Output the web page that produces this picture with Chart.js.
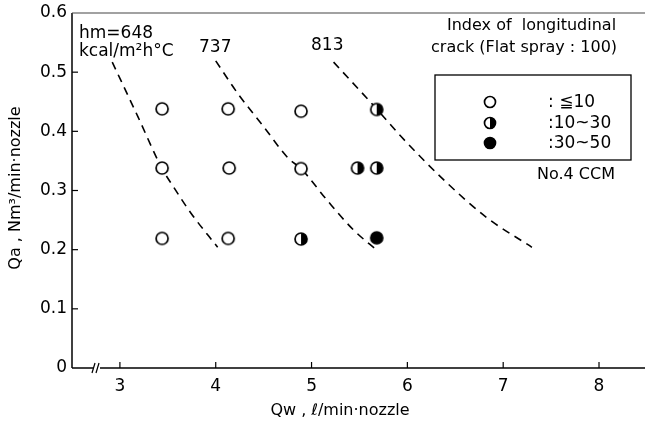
<!DOCTYPE html>
<html>
<head>
<meta charset="utf-8">
<script src="https://cdn.jsdelivr.net/npm/chart.js@4.4.1/dist/chart.umd.min.js"></script>
<style>
html,body{margin:0;padding:0;background:#fff;overflow:hidden;}
canvas{display:block;}
</style>
</head>
<body>
<canvas id="c" width="645" height="423" style="width:645px;height:423px;"></canvas>
<script>
// ---- data ----
const xTickValues = [3, 4, 5, 6, 7, 8];
const yTickValues = [0, 0.1, 0.2, 0.3, 0.4, 0.5, 0.6];
const openPts = [
  {x:3.44,y:0.438},{x:4.13,y:0.438},{x:4.89,y:0.434},
  {x:3.44,y:0.338},{x:4.14,y:0.338},{x:4.89,y:0.337},
  {x:3.44,y:0.219},{x:4.13,y:0.219}
];
const halfPts = [
  {x:5.68,y:0.437},{x:5.48,y:0.338},{x:5.68,y:0.338},{x:4.89,y:0.218}
];
const fullPts = [
  {x:5.68,y:0.220}
];
const curve648 = [
  {x:2.92,y:0.517},{x:3.19,y:0.424},{x:3.44,y:0.337},{x:3.56,y:0.306},{x:3.74,y:0.262},{x:4.02,y:0.204}
];
const curve737 = [
  {x:4.0,y:0.519},{x:4.23,y:0.464},{x:4.50,y:0.408},{x:4.76,y:0.354},{x:4.89,y:0.337},{x:5.16,y:0.284},{x:5.44,y:0.233},{x:5.69,y:0.198}
];
const curve813 = [
  {x:5.23,y:0.517},{x:5.69,y:0.436},{x:5.93,y:0.392},{x:6.38,y:0.318},{x:6.83,y:0.254},{x:7.30,y:0.204}
];
const legendLabels = [': \u226610', ':10~30', ':30~50'];

// ---- drawing helpers ----
const FONT = "'DejaVu Sans', sans-serif";
const PLOT_RIGHT = 645;
function drawMarker(ctx, x, y, r, kind){
  ctx.save();
  ctx.lineWidth = 1.7;
  ctx.strokeStyle = '#000';
  ctx.beginPath(); ctx.arc(x, y, r, 0, Math.PI*2);
  ctx.fillStyle = kind === 'full' ? '#000' : '#fff';
  ctx.fill();
  if (kind === 'half'){
    ctx.beginPath(); ctx.moveTo(x, y - r); ctx.arc(x, y, r, -Math.PI/2, Math.PI/2); ctx.closePath();
    ctx.fillStyle = '#000'; ctx.fill();
  }
  ctx.beginPath(); ctx.arc(x, y, r, 0, Math.PI*2); ctx.stroke();
  ctx.restore();
}
function markerImage(kind, r){
  const s = Math.ceil(r*2 + 4);
  const cv = document.createElement('canvas');
  cv.width = s; cv.height = s;
  drawMarker(cv.getContext('2d'), s/2, s/2, r, kind);
  return cv;
}

const stretchPlugin = {
  id: 'stretch',
  afterLayout(chart){
    const a = chart.chartArea, x = chart.scales.x;
    if (a && x && a.right < PLOT_RIGHT) {
      a.right = PLOT_RIGHT; a.width = a.right - a.left;
      x.right = PLOT_RIGHT; x.width = x.right - x.left;
      x.configure();
    }
  }
};

const decorPlugin = {
  id: 'decor',
  beforeDatasetsDraw(chart){
    const {ctx, chartArea:a, scales:{x, y}} = chart;
    ctx.save();
    ctx.strokeStyle = '#000';
    ctx.lineWidth = 1.5;
    ctx.beginPath(); ctx.moveTo(a.left, a.top); ctx.lineTo(a.left, a.bottom); ctx.stroke();
    const brk = 97;
    ctx.beginPath(); ctx.moveTo(a.left, a.bottom); ctx.lineTo(brk - 4, a.bottom); ctx.stroke();
    ctx.beginPath(); ctx.moveTo(brk + 3, a.bottom); ctx.lineTo(a.right, a.bottom); ctx.stroke();
    ctx.lineWidth = 1.2;
    ctx.beginPath(); ctx.moveTo(brk - 5, a.bottom + 5); ctx.lineTo(brk - 2, a.bottom - 5); ctx.stroke();
    ctx.beginPath(); ctx.moveTo(brk - 1, a.bottom + 5); ctx.lineTo(brk + 2, a.bottom - 5); ctx.stroke();
    ctx.strokeStyle = '#444'; ctx.lineWidth = 1.2;
    ctx.beginPath(); ctx.moveTo(a.left, a.top); ctx.lineTo(a.right, a.top); ctx.stroke();
    ctx.strokeStyle = '#000'; ctx.lineWidth = 1.2;
    xTickValues.forEach(v => {
      const px = x.getPixelForValue(v);
      ctx.beginPath(); ctx.moveTo(px, a.bottom); ctx.lineTo(px, a.bottom - 6); ctx.stroke();
    });
    yTickValues.forEach(v => {
      if (v === 0 || v === 0.6) return;
      const py = y.getPixelForValue(v);
      ctx.beginPath(); ctx.moveTo(a.left, py); ctx.lineTo(a.left + 6, py); ctx.stroke();
    });
    ctx.restore();
  },
  afterDraw(chart){
    const {ctx} = chart;
    ctx.save();
    ctx.fillStyle = '#000';
    ctx.textBaseline = 'alphabetic';
    ctx.textAlign = 'left';
    ctx.font = "17px " + FONT;
    ctx.fillText('hm=648', 79, 38);
    ctx.fillText('kcal/m\u00B2h\u00B0C', 79, 56);
    ctx.fillText('737', 199, 52);
    ctx.fillText('813', 311, 50);
    ctx.font = "16px " + FONT;
    ctx.fillText('Index of  longitudinal', 447, 30);
    ctx.fillText('crack (Flat spray : 100)', 431, 52);
    ctx.strokeStyle = '#000'; ctx.lineWidth = 1.3;
    ctx.strokeRect(435, 75, 196, 85);
    const ly = [102, 123, 143];
    ctx.textBaseline = 'middle';
    ctx.font = "17px " + FONT;
    ['open','half','full'].forEach((k, i) => {
      drawMarker(ctx, 490, ly[i], 5.5, k);
      ctx.fillText(legendLabels[i], 548, ly[i] + 1);
    });
    ctx.font = "16px " + FONT;
    ctx.fillText('No.4 CCM', 537, 175);
    ctx.textAlign = 'center';
    ctx.font = "16px " + FONT;
    ctx.fillText('Qw , \u2113/min\u00B7nozzle', 340, 411);
    ctx.translate(16, 188);
    ctx.rotate(-Math.PI/2);
    ctx.fillText('Qa , Nm\u00B3/min\u00B7nozzle', 0, 0);
    ctx.restore();
  }
};

const dashed = (data) => ({
  type: 'line', data, showLine: true, pointRadius: 0, pointHoverRadius: 0,
  borderColor: '#000', borderWidth: 1.6, borderDash: [8, 6],
  cubicInterpolationMode: 'monotone',
  fill: false, order: 2
});

new Chart(document.getElementById('c'), {
  type: 'scatter',
  data: {
    datasets: [
      dashed(curve648), dashed(curve737), dashed(curve813),
      { data: openPts, pointStyle: markerImage('open', 6), pointRadius: 6, order: 1 },
      { data: halfPts, pointStyle: markerImage('half', 6), pointRadius: 6, order: 1 },
      { data: fullPts, pointStyle: markerImage('full', 6), pointRadius: 6, order: 1 }
    ]
  },
  options: {
    responsive: false, maintainAspectRatio: false, animation: false, devicePixelRatio: 1,
    layout: { padding: { top: 13, right: 0, left: 0, bottom: 0 } },
    plugins: { legend: { display: false }, tooltip: { enabled: false } },
    scales: {
      x: {
        type: 'linear', min: 2.5, max: 8.48,
        grid: { display: false, drawTicks: false }, border: { display: false },
        afterBuildTicks: (s) => { s.ticks = xTickValues.map(v => ({ value: v })); },
        afterFit: (s) => { s.height = 55; s.paddingLeft = 0; s.paddingRight = 0; },
        ticks: { color: '#000', font: { family: FONT, size: 17 }, padding: 8, maxRotation: 0, autoSkip: false }
      },
      y: {
        type: 'linear', min: 0, max: 0.6,
        grid: { display: false, drawTicks: false }, border: { display: false },
        afterBuildTicks: (s) => { s.ticks = yTickValues.map(v => ({ value: v })); },
        afterFit: (s) => { s.width = 72; s.paddingTop = 0; s.paddingBottom = 0; },
        ticks: { color: '#000', font: { family: FONT, size: 17 }, padding: 5,
          callback: (v) => v === 0 ? '0' : v.toFixed(1) }
      }
    }
  },
  plugins: [stretchPlugin, decorPlugin]
});
</script>
</body>
</html>
